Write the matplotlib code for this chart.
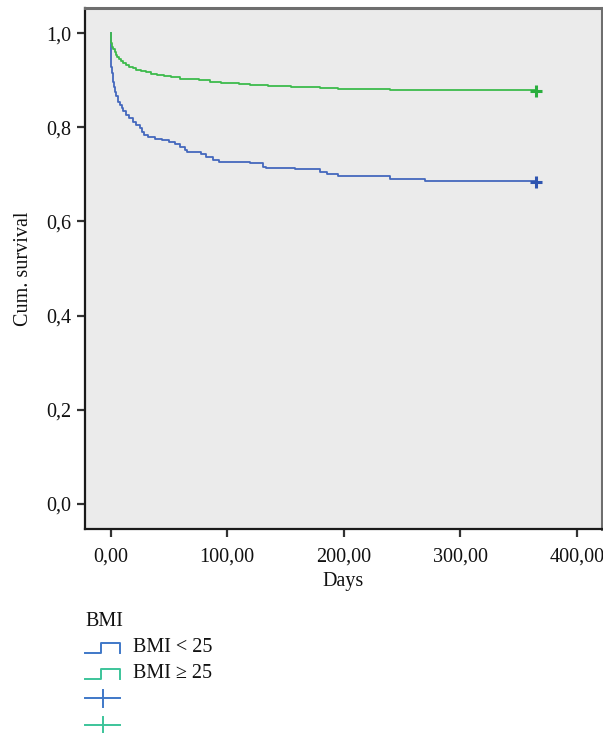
import matplotlib
matplotlib.use("Agg")
import matplotlib.pyplot as plt
from matplotlib.lines import Line2D
import numpy as np

# ---- data ----
bmi_lt25_days = [0, 0.3, 1, 2, 3, 4, 5, 6.5, 8, 9.5, 11, 13.5, 16, 19, 22, 25, 27, 28.5,
                 32, 38, 44, 50, 55, 60, 64, 66, 78, 82, 88, 93, 120, 131, 133, 158,
                 180, 186, 195, 240, 270, 365]
bmi_lt25_surv = [1.0, 0.929, 0.915, 0.897, 0.886, 0.876, 0.866, 0.855, 0.848, 0.841, 0.834,
                 0.827, 0.820, 0.812, 0.805, 0.798, 0.791, 0.784, 0.779, 0.776, 0.773, 0.768,
                 0.764, 0.759, 0.752, 0.747, 0.743, 0.738, 0.731, 0.727, 0.724, 0.716, 0.713,
                 0.711, 0.706, 0.701, 0.696, 0.691, 0.686, 0.686]

bmi_ge25_days = [0, 0.5, 1.5, 2.5, 3.5, 4.5, 5.5, 7, 9, 11, 13, 16, 19, 22, 26, 30, 35, 40,
                 46, 52, 60, 68, 76, 85, 95, 110, 120, 135, 155, 180, 195, 240, 365]
bmi_ge25_surv = [1.0, 0.979, 0.972, 0.966, 0.960, 0.955, 0.950, 0.946, 0.941, 0.937, 0.933,
                 0.929, 0.926, 0.923, 0.920, 0.917, 0.914, 0.911, 0.909, 0.907, 0.904, 0.902,
                 0.900, 0.897, 0.895, 0.893, 0.891, 0.888, 0.886, 0.884, 0.881, 0.879, 0.879]

censor_lt25 = (365, 0.683)
censor_ge25 = (365, 0.878)

x_ticks = [0, 100, 200, 300, 400]
x_ticklabels = ["0,00", "100,00", "200,00", "300,00", "400,00"]
y_ticks = [0.0, 0.2, 0.4, 0.6, 0.8, 1.0]
y_ticklabels = ["0,0", "0,2", "0,4", "0,6", "0,8", "1,0"]

legend_title = "BMI"
legend_labels = ["BMI < 25", "BMI ≥ 25"]

# ---- styling ----
blue = "#4468bd"
green = "#3dbb4c"
blue_leg = "#3f78c8"
green_leg = "#3cc49a"
serif = ["Liberation Serif", "DejaVu Serif"]
plt.rcParams["font.family"] = serif
FS = 14.5

fig = plt.figure(figsize=(6.03, 7.33), dpi=100)
ax = fig.add_axes([85 / 603, 1 - 529 / 733, (602 - 85) / 603, (529 - 8) / 733])
ax.set_facecolor("#ebebeb")

ax.step(bmi_lt25_days, bmi_lt25_surv, where="post", color=blue, lw=1.3)
ax.step(bmi_ge25_days, bmi_ge25_surv, where="post", color=green, lw=1.3)
ax.plot(*censor_lt25, marker="+", color="#2f55b0", ms=9, mew=2.2, ls="none")
ax.plot(*censor_ge25, marker="+", color="#2aae3e", ms=9, mew=2.2, ls="none")

ax.set_xlim(-21.9, 421.5)
ax.set_ylim(-0.054, 1.054)
ax.set_xticks(x_ticks)
ax.set_xticklabels(x_ticklabels)
ax.set_yticks(y_ticks)
ax.set_yticklabels(y_ticklabels)
ax.tick_params(axis="both", direction="out", length=6, width=1.6, color="#333333",
               labelsize=FS, labelcolor="#111111")
ax.tick_params(axis="x", pad=7)
ax.tick_params(axis="y", pad=4)

for s in ["left", "bottom"]:
    ax.spines[s].set_color("#1a1a1a")
    ax.spines[s].set_linewidth(1.6)
for s in ["top", "right"]:
    ax.spines[s].set_color("#6e6e6e")
    ax.spines[s].set_linewidth(2.2)

ax.set_xlabel("Days", fontsize=FS, labelpad=4, color="#111111")
ax.set_ylabel("Cum. survival", fontsize=FS, labelpad=9, color="#111111")

# ---- legend (drawn manually below the plot) ----
def fx(px):
    return px / 603

def fy(py):
    return 1 - py / 733

fig.text(fx(85), fy(622), legend_title, fontsize=FS, va="center", ha="left", color="#111111")

def step_icon(y_low, y_high, color):
    xs = [fx(85), fx(101), fx(101), fx(120), fx(120)]
    ys = [fy(y_low), fy(y_low), fy(y_high), fy(y_high), fy(y_low)]
    fig.add_artist(Line2D(xs, ys, color=color, lw=1.4, transform=fig.transFigure))

step_icon(652.7, 642.7, blue_leg)
fig.text(fx(133), fy(648), legend_labels[0], fontsize=FS, va="center", ha="left", color="#111111")
step_icon(679.3, 669.3, green_leg)
fig.text(fx(133), fy(673), legend_labels[1], fontsize=FS, va="center", ha="left", color="#111111")

def cross_icon(yc, color):
    fig.add_artist(Line2D([fx(85), fx(120)], [fy(yc), fy(yc)], color=color, lw=1.4,
                          transform=fig.transFigure))
    fig.add_artist(Line2D([fx(102.7), fx(102.7)], [fy(yc - 8.5), fy(yc + 8.5)], color=color,
                          lw=1.4, transform=fig.transFigure))

cross_icon(698.3, blue_leg)
cross_icon(725, green_leg)

fig.savefig("out.png", dpi=100, facecolor="white")
